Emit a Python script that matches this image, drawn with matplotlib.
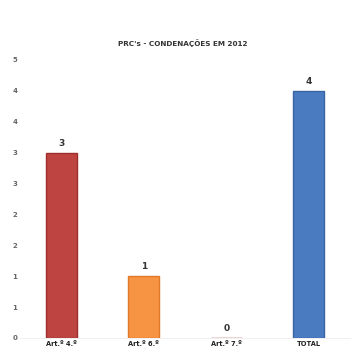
import numpy as np
import matplotlib.pyplot as plt

# PRC's convictions in 2012, per article
categories = ['Art.º 4.º', 'Art.º 6.º', 'Art.º 7.º', 'TOTAL']
counts = [3, 1, 0, 4]
bar_colors = ['#BE4441', '#F79443', '#C0504D', '#4A7BC0']
edge_colors = ['#9E2E2C', '#E07A2A', '#9E2E2C', '#3A65A3']

y_ticks = [0, 0.5, 1, 1.5, 2, 2.5, 3, 3.5, 4, 4.5]
y_tick_labels = ['0', '1', '1', '2', '2', '3', '3', '4', '4', '5']

fig = plt.figure(figsize=(3.64, 3.58), dpi=100)
ax = fig.add_axes([20 / 364, 20 / 358, 330 / 364, 278 / 358])

x = np.arange(len(categories))
bars = ax.bar(x, counts, width=0.37, color=bar_colors, edgecolor=edge_colors, linewidth=1.0)

for xi, v in zip(x, counts):
    ax.text(xi, v + 0.08, str(v), ha='center', va='bottom',
            fontsize=6.5, fontweight='bold', color='#333333')

ax.set_xlim(-0.5, 3.5)
ax.set_ylim(0, 4.5)
ax.set_yticks(y_ticks)
ax.set_yticklabels(y_tick_labels, fontsize=5, color='#666666', fontweight='bold')
ax.set_xticks(x)
ax.set_xticklabels(categories, fontsize=4.8, fontweight='bold', color='#222222')
ax.tick_params(axis='both', length=0, pad=2)
ax.tick_params(axis='y', pad=2)

for side in ['top', 'right', 'left']:
    ax.spines[side].set_visible(False)
ax.spines['bottom'].set_color('#EEEEEE')
ax.spines['bottom'].set_linewidth(0.6)

fig.text(183 / 364, 1 - 43 / 358, "PRC's - CONDENAÇÕES EM 2012", ha='center', va='center',
         fontsize=5.2, fontweight='bold', color='#333333')

fig.savefig('out.png', dpi=100)
